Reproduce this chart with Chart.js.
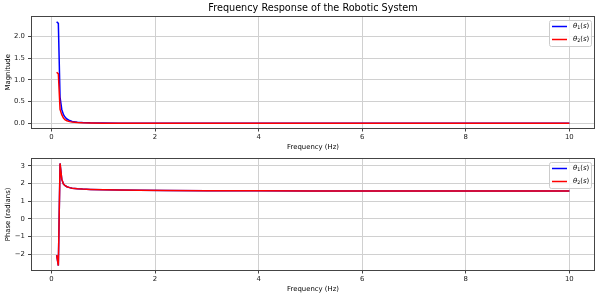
<!DOCTYPE html>
<html>
<head>
<meta charset="utf-8">
<script src="https://cdn.jsdelivr.net/npm/chart.js@4.4.1/dist/chart.umd.min.js"></script>
<style>
  html, body { margin: 0; padding: 0; background: #fff; }
  #wrap { position: relative; width: 600px; height: 298px; overflow: hidden; }
  .panel { position: absolute; left: 0; width: 600px; }
  #magBox { top: 0; }
  #phaseBox { top: 150px; }
</style>
</head>
<body>
<div id="wrap">
  <div class="panel" id="magBox"><canvas id="magChart" width="600" height="153"></canvas></div>
  <div class="panel" id="phaseBox"><canvas id="phaseChart" width="600" height="145"></canvas></div>
</div>
<script>
// --- data ---
const freqHz = [0.1, 0.133, 0.166, 0.199, 0.232, 0.265, 0.298, 0.35, 0.4, 0.5, 0.6, 0.75,
                1.0, 1.3, 1.7, 2.2, 3, 4, 5, 6, 7, 8, 9, 10];
const mag1 = [2.34, 2.30, 0.60, 0.32, 0.20, 0.14, 0.10, 0.065, 0.045, 0.028, 0.019, 0.012,
              0.007, 0.004, 0.003, 0.002, 0.001, 0.001, 0.0005, 0.0005, 0.0003, 0.0003, 0.0002, 0.0002];
const mag2 = [1.175, 1.14, 0.32, 0.20, 0.12, 0.08, 0.06, 0.04, 0.03, 0.018, 0.012, 0.008,
              0.0045, 0.0025, 0.0015, 0.001, 0.0005, 0.0005, 0.0003, 0.0003, 0.0002, 0.0002, 0.0001, 0.0001];
const phase1 = [-2.05, -2.64, 3.14, 2.25, 1.97, 1.88, 1.82, 1.77, 1.74, 1.71, 1.69, 1.67,
                1.65, 1.63, 1.62, 1.61, 1.60, 1.59, 1.585, 1.58, 1.578, 1.576, 1.574, 1.573];
const phase2 = [-2.05, -2.64, 3.14, 2.25, 1.97, 1.88, 1.82, 1.77, 1.74, 1.71, 1.69, 1.67,
                1.65, 1.63, 1.62, 1.61, 1.60, 1.59, 1.585, 1.58, 1.578, 1.576, 1.574, 1.573];

const seriesLabels = ['θ_1(s)', 'θ_2(s)'];
const seriesColors = ['#0000ff', '#ff0000'];

const freqTicks = [0, 2, 4, 6, 8, 10];
const magTicks = [0, 0.5, 1, 1.5, 2];
const magTickLabels = ['0.0', '0.5', '1.0', '1.5', '2.0'];
const phaseTicks = [-2, -1, 0, 1, 2, 3];
const phaseTickLabels = ['\u22122', '\u22121', '0', '1', '2', '3'];

const FONT = "'DejaVu Sans', sans-serif";
const LABEL_SIZE = 6.9;

// mathtext-ish label: letters italic, "_x" as subscript
function drawMathLabel(ctx, text, x, y, size) {
    let cx = x;
    for (let i = 0; i < text.length; i++) {
        let ch = text[i];
        let sub = false;
        if (ch === '_') { sub = true; ch = text[++i]; }
        const italic = /[a-zA-Z\u03b1-\u03c9]/.test(ch);
        const fs = sub ? size * 0.7 : size;
        ctx.font = (italic ? 'italic ' : '') + fs + 'px ' + FONT;
        ctx.fillText(ch, cx, sub ? y + size * 0.22 : y);
        cx += ctx.measureText(ch).width;
    }
}

// axes frame (all four spines)
const framePlugin = {
    id: 'frame',
    afterDatasetsDraw(chart) {
        const { ctx, chartArea: ca } = chart;
        ctx.save();
        ctx.strokeStyle = '#444';
        ctx.lineWidth = 1;
        const l = Math.round(ca.left) + 0.5, t = Math.round(ca.top) + 0.5;
        const r = Math.round(ca.right) - 0.5, b = Math.round(ca.bottom) - 0.5;
        ctx.strokeRect(l, t, r - l, b - t);
        ctx.restore();
    }
};

// legend box in the upper right of the plot area
const boxLegend = {
    id: 'boxLegend',
    afterDatasetsDraw(chart) {
        const { ctx, chartArea: ca } = chart;
        const x0 = Math.round(ca.right) - 46, y0 = Math.round(ca.top) + 4;
        ctx.save();
        ctx.beginPath();
        ctx.roundRect(x0 + 0.5, y0 + 0.5, 42, 26, 2);
        ctx.fillStyle = 'rgba(255,255,255,0.8)';
        ctx.fill();
        ctx.strokeStyle = '#cccccc';
        ctx.lineWidth = 1;
        ctx.stroke();
        chart.data.datasets.forEach((ds, i) => {
            const y = y0 + 6.5 + i * 13;
            ctx.strokeStyle = ds.borderColor;
            ctx.lineWidth = 1.5;
            ctx.beginPath();
            ctx.moveTo(x0 + 3, y);
            ctx.lineTo(x0 + 18, y);
            ctx.stroke();
            ctx.fillStyle = '#000';
            ctx.textBaseline = 'middle';
            drawMathLabel(ctx, ds.label, x0 + 24, y, LABEL_SIZE);
        });
        ctx.restore();
    }
};

function makePanel(canvasId, opts) {
    const toPoints = arr => arr.map((v, i) => ({ x: freqHz[i], y: v }));
    return new Chart(document.getElementById(canvasId), {
        type: 'line',
        data: {
            datasets: opts.series.map((arr, i) => ({
                label: seriesLabels[i],
                data: toPoints(arr),
                borderColor: seriesColors[i],
                borderWidth: 1.5,
                pointRadius: 0,
                tension: 0,
                order: i === 0 ? 1 : 0
            }))
        },
        options: {
            responsive: false,
            animation: false,
            events: [],
            layout: { padding: { top: opts.padTop, right: 5, left: 0, bottom: 0 } },
            plugins: {
                legend: { display: false },
                tooltip: { enabled: false },
                title: {
                    display: !!opts.title,
                    text: opts.title || '',
                    fullSize: false,
                    color: '#000',
                    font: { family: FONT, size: 9.7, weight: 'normal' },
                    padding: { top: 2.4, bottom: 2 }
                }
            },
            scales: {
                x: {
                    type: 'linear',
                    min: -0.395,
                    max: 10.495,
                    afterBuildTicks: s => { s.ticks = freqTicks.map(v => ({ value: v })); },
                    afterFit: s => { s.height = 24.5; },
                    ticks: {
                        autoSkip: false, maxRotation: 0, padding: 2, color: '#222',
                        font: { family: FONT, size: LABEL_SIZE },
                        callback: v => String(v)
                    },
                    grid: { color: '#d0d0d0', lineWidth: 1, tickColor: '#444', tickLength: 3 },
                    border: { display: false },
                    title: {
                        display: true, text: 'Frequency (Hz)', color: '#000',
                        font: { family: FONT, size: LABEL_SIZE },
                        padding: { top: 0, bottom: 1.5 }
                    }
                },
                y: {
                    min: opts.yMin,
                    max: opts.yMax,
                    afterBuildTicks: s => { s.ticks = opts.yTicks.map(v => ({ value: v })); },
                    afterFit: s => { s.width = 31; },
                    ticks: {
                        padding: 3, color: '#222',
                        font: { family: FONT, size: LABEL_SIZE },
                        callback: (v, i) => opts.yTickLabels[i]
                    },
                    grid: { color: '#d0d0d0', lineWidth: 1, tickColor: '#444', tickLength: 3 },
                    border: { display: false },
                    title: {
                        display: true, text: opts.yTitle, color: '#000',
                        font: { family: FONT, size: LABEL_SIZE },
                        padding: { top: 4, bottom: 0 }
                    }
                }
            }
        },
        plugins: [framePlugin, boxLegend]
    });
}

makePanel('magChart', {
    title: 'Frequency Response of the Robotic System',
    padTop: 0,
    series: [mag1, mag2],
    yMin: -0.118, yMax: 2.47,
    yTicks: magTicks, yTickLabels: magTickLabels,
    yTitle: 'Magnitude'
});

makePanel('phaseChart', {
    padTop: 8.3,
    series: [phase1, phase2],
    yMin: -2.92, yMax: 3.43,
    yTicks: phaseTicks, yTickLabels: phaseTickLabels,
    yTitle: 'Phase (radians)'
});
</script>
</body>
</html>
